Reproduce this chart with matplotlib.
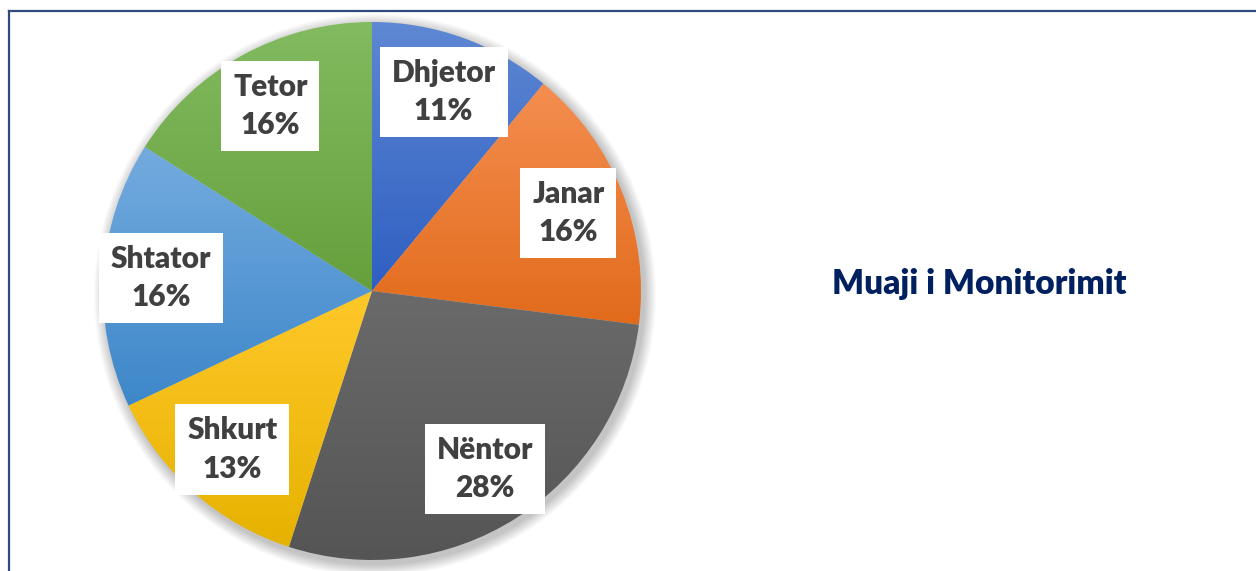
import matplotlib
matplotlib.use("Agg")
import matplotlib.pyplot as plt
import numpy as np
from matplotlib.colors import LinearSegmentedColormap
from matplotlib.patches import Circle
from matplotlib.lines import Line2D

# data
months = ["Dhjetor", "Janar", "Nëntor", "Shkurt", "Shtator", "Tetor"]
shares = [11, 16, 28, 13, 16, 16]
# gradient (top, bottom) per slice
grads = [("#5E88D3", "#2E5FC2"),
         ("#F48E50", "#E26B1B"),
         ("#6A6A6A", "#555555"),
         ("#FFC82A", "#E6B200"),
         ("#74ABDF", "#3D87C9"),
         ("#82BB60", "#66A03C")]
title = "Muaji i Monitorimit"

W, H = 1256, 571
fig = plt.figure(figsize=(W / 100, H / 100), dpi=100)
ax = fig.add_axes([0, 0, 1, 1])

cx, cy, r = 372, 280, 269

# soft shadow
for i in range(12):
    ax.add_patch(Circle((cx + 3, cy - 4), r + 12 - i, color="black",
                        alpha=0.018, lw=0, zorder=0))

wedges, texts, autotexts = ax.pie(shares, startangle=90, counterclock=False,
                                  center=(cx, cy), radius=r,
                                  autopct="%1.0f%%", pctdistance=0.785,
                                  wedgeprops=dict(linewidth=0))

for w, (top, bot) in zip(wedges, grads):
    w.set_facecolor("none")
    w.set_zorder(1)
    bb = w.get_path().transformed(w.get_patch_transform()).get_extents()
    cmap = LinearSegmentedColormap.from_list("g", [bot, top])
    grad = np.linspace(0, 1, 256).reshape(-1, 1)
    im = ax.imshow(grad, cmap=cmap, origin="lower", aspect="auto",
                   extent=[bb.x0, bb.x1, bb.y0, bb.y1], zorder=1,
                   interpolation="bicubic")
    im.set_clip_path(w)

for t, name in zip(autotexts, months):
    t.set_text(name + "\n" + t.get_text())
    t.set_fontfamily("Lato")
    t.set_fontweight("heavy")
    t.set_fontsize(21.5)
    t.set_color("#404040")
    t.set_linespacing(1.45)
    t.set_zorder(5)
    t.set_bbox(dict(boxstyle="square,pad=0.4", fc="white", ec="none"))

ax.text(979, H - 284, title, ha="center", va="center", fontsize=24,
        fontweight="heavy", family="Lato", color="#002060")

ax.set_xlim(0, W)
ax.set_ylim(0, H)
ax.set_aspect("auto")
ax.axis("off")

# frame (top and left edges visible)
fig.add_artist(Line2D([9 / W, 1], [1 - 11 / H, 1 - 11 / H], color="#2F4B7C", lw=1.6))
fig.add_artist(Line2D([9 / W, 9 / W], [0, 1 - 11 / H], color="#2F4B7C", lw=1.6))

plt.savefig("out.png", dpi=100)
